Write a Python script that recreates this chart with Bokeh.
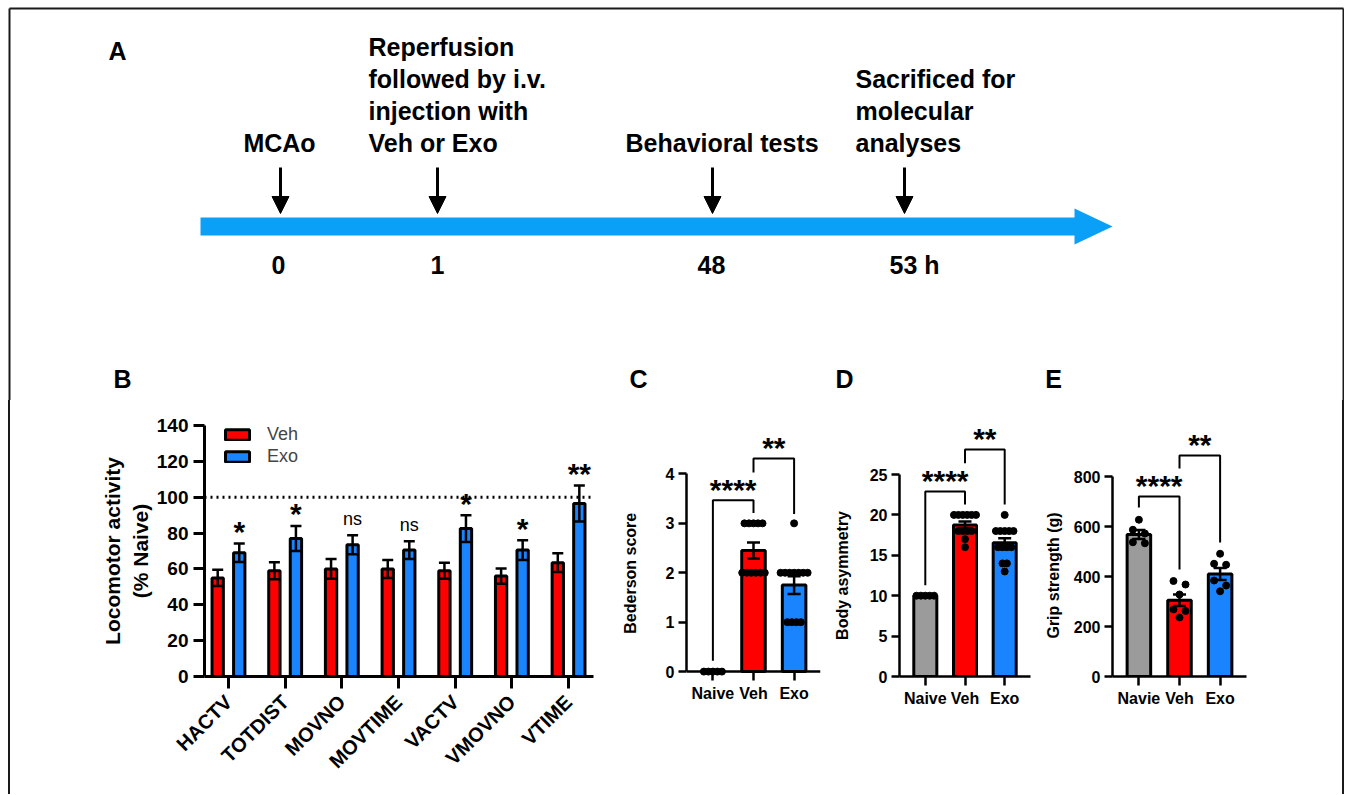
import numpy as np
from bokeh.plotting import figure
from bokeh.models import (Range1d, FixedTicker, ColumnDataSource, Whisker, TeeHead,
                          Legend, LegendItem, Span, Arrow, NormalHead, Div)
from bokeh.layouts import row, column
from bokeh.core.properties import value
from bokeh.embed import file_html
from bokeh.resources import INLINE

FONT = "Liberation Sans"
RED = "#ff0000"
BLUE = "#1a84ff"
GREY = "#9b9b9b"
ARROW_BLUE = "#0aa0f8"
EDGE = "#1a1a1a"

# ---------------- data ----------------
# Panel A (timeline)
a_events = ["MCAo", "Reperfusion\nfollowed by i.v.\ninjection with\nVeh or Exo",
            "Behavioral tests", "Sacrificed for\nmolecular\nanalyses"]
a_times = ["0", "1", "48", "53 h"]

# Panel B
b_cats = ["HACTV", "TOTDIST", "MOVNO", "MOVTIME", "VACTV", "VMOVNO", "VTIME"]
b_groups = ["Veh", "Exo"]
b_veh_mean = [55, 59, 60, 60, 59, 56, 63.5]
b_veh_sem = [4.5, 4.7, 5.5, 5.0, 4.5, 4.2, 5.2]
b_exo_mean = [69, 77, 73.5, 70.5, 82.5, 70.5, 96.5]
b_exo_sem = [5.2, 7.0, 5.3, 5.0, 7.5, 5.5, 10.0]
b_exo_sig = ["*", "*", "ns", "ns", "*", "*", "**"]
b_yticks = [0, 20, 40, 60, 80, 100, 120, 140]
b_naive_level = 100

# Panel C
c_groups = ["Naive", "Veh", "Exo"]
c_points = [[0, 0, 0, 0, 0],
            [3, 3, 3, 3, 3, 2, 2, 2, 2, 2, 2],
            [3, 2, 2, 2, 2, 2, 2, 2, 1, 1, 1, 1]]
c_mean = [0, 2.45, 1.75]
c_sem = [0, 0.16, 0.18]
c_yticks = [0, 1, 2, 3, 4]
c_brackets = [(0, 1, 3.47, 0.22, 3.21, "****"), (1, 2, 4.31, 4.03, 3.19, "**")]

# Panel D
d_groups = ["Naive", "Veh", "Exo"]
d_points = [[10, 10, 10, 10, 10],
            [20, 20, 20, 20, 20, 20, 18, 18, 18, 18, 17, 16],
            [20, 18, 18, 18, 18, 18, 16, 16, 16, 16, 14, 14, 13]]
d_mean = [10, 18.75, 16.55]
d_sem = [0, 0.42, 0.56]
d_yticks = [0, 5, 10, 15, 20, 25]
d_brackets = [(0, 1, 22.9, 11.3, 21.3, "****"), (1, 2, 28.1, 26.4, 21.3, "**")]

# Panel E
e_groups = ["Navie", "Veh", "Exo"]
e_points = [[627, 587, 572, 537, 533],
            [382, 368, 328, 268, 262, 236],
            [491, 451, 447, 384, 364, 341]]
e_mean = [568, 305, 410]
e_sem = [18, 23, 24]
e_yticks = [0, 200, 400, 600, 800]
e_brackets = [(0, 1, 720, 676, 428, "****"), (1, 2, 884, 832, 536, "**")]

GROUP_COLORS = [GREY, RED, BLUE]

ROW_H = 394

# ---------------- Panel A (schematic, page-pixel coordinates) ----------------
pA = figure(width=1344, height=400, x_range=Range1d(0, 1344), y_range=Range1d(400, 0),
            output_backend="svg", toolbar_location=None, min_border=0,
            x_axis_location=None, y_axis_location=None)
pA.grid.visible = False
pA.outline_line_color = None

# frame edges (top / left / right)
pA.multi_line(xs=[[9, 9], [9, 1343], [1343, 1343]], ys=[[402, 8], [8, 8], [8, 402]],
              line_color=EDGE, line_width=2)

# timeline arrow
pA.patch(x=[200, 1074, 1074, 1112, 1074, 1074, 200], y=[217, 217, 208, 226, 244, 235, 235],
         fill_color=ARROW_BLUE, line_color=None)

ev_x = [280, 437, 712, 904]
ev_text_x = [279, 368, 625, 855]
ev_align = ["center", "left", "left", "left"]
tx, ty, tt, ta = [], [], [], []
for k, ev in enumerate(a_events):
    lines = ev.split("\n")
    n = len(lines)
    for j, ln in enumerate(lines):
        tx.append(ev_text_x[k]); ty.append(142 - 32 * (n - 1 - j)); tt.append(ln); ta.append(ev_align[k])
time_x = [278, 437, 711, 889]
time_align = ["center", "center", "center", "left"]
for k, t in enumerate(a_times):
    tx.append(time_x[k]); ty.append(264); tt.append(t); ta.append(time_align[k])
pA.text(x=tx, y=ty, text=tt, text_align=ta, text_baseline="middle",
        text_font=value(FONT), text_font_style="bold", text_font_size="25px", text_color="black")

arr_src = ColumnDataSource(dict(x0=ev_x, y0=[167] * 4, x1=ev_x, y1=[213] * 4))
pA.add_layout(Arrow(source=arr_src, x_start="x0", y_start="y0", x_end="x1", y_end="y1",
                    line_width=3, line_color="black",
                    end=NormalHead(size=17, fill_color="black", line_color="black", line_width=1)))

pA.text(x=[117, 122, 638, 844, 1053], y=[50, 378, 378, 378, 378], text=["A", "B", "C", "D", "E"],
        text_align="center", text_baseline="middle", text_font=value(FONT),
        text_font_style="bold", text_font_size="25px", text_color="black")


def style_axes(p, lw, tick_out_x, tick_out_y, label_size):
    p.xgrid.visible = False
    p.ygrid.visible = False
    p.outline_line_color = None
    for ax in p.axis:
        ax.axis_line_width = lw
        ax.axis_line_color = "black"
        ax.major_tick_line_width = lw
        ax.major_tick_line_color = "black"
        ax.minor_tick_line_color = None
        ax.major_tick_in = 0
        ax.major_label_text_font = FONT
        ax.major_label_text_font_style = "bold"
        ax.major_label_text_font_size = label_size
        ax.major_label_text_color = "black"
        ax.axis_label_text_font = FONT
        ax.axis_label_text_font_style = "bold"
        ax.axis_label_text_color = "black"
    p.xaxis.major_tick_out = tick_out_x
    p.yaxis.major_tick_out = tick_out_y


# ---------------- Panel B ----------------
bx = np.arange(len(b_cats))
pB = figure(width=590, height=ROW_H, x_range=Range1d(-0.423, 6.44), y_range=Range1d(0, 140),
            output_backend="svg", toolbar_location=None,
            min_border_left=194, min_border_right=7, min_border_top=17,
            min_border_bottom=ROW_H - 17 - 261)
style_axes(pB, 3, 12, 11, "19px")
srcB = ColumnDataSource(dict(
    xv=bx - 0.19, xe=bx + 0.19,
    veh=b_veh_mean, exo=b_exo_mean,
    veh_lo=np.array(b_veh_mean) - np.array(b_veh_sem), veh_hi=np.array(b_veh_mean) + np.array(b_veh_sem),
    exo_lo=np.array(b_exo_mean) - np.array(b_exo_sem), exo_hi=np.array(b_exo_mean) + np.array(b_exo_sem),
))
rv = pB.vbar(x="xv", top="veh", width=0.2, source=srcB, fill_color=RED, line_color="black", line_width=3)
rex = pB.vbar(x="xe", top="exo", width=0.2, source=srcB, fill_color=BLUE, line_color="black", line_width=3)
for base, lo, hi in [("xv", "veh_lo", "veh_hi"), ("xe", "exo_lo", "exo_hi")]:
    pB.add_layout(Whisker(source=srcB, base=base, lower=lo, upper=hi, dimension="height",
                          level="overlay", line_width=2.5, line_color="black",
                          upper_head=TeeHead(size=11, line_width=2.5, line_color="black"),
                          lower_head=TeeHead(size=11, line_width=2.5, line_color="black")))
pB.add_layout(Span(location=b_naive_level, dimension="width", line_color="black",
                   line_width=3, line_dash="2 4"))
star_i = [i for i, s in enumerate(b_exo_sig) if s != "ns"]
ns_i = [i for i, s in enumerate(b_exo_sig) if s == "ns"]
pB.text(x=[bx[i] + 0.19 for i in star_i], y=[b_exo_mean[i] + b_exo_sem[i] for i in star_i],
        text=[b_exo_sig[i] for i in star_i], text_align="center", text_baseline="middle",
        y_offset=-12, text_font=value(FONT), text_font_style="bold", text_font_size="30px")
pB.text(x=[bx[i] + 0.19 for i in ns_i], y=[b_exo_mean[i] + b_exo_sem[i] for i in ns_i],
        text=[b_exo_sig[i] for i in ns_i], text_align="center", text_baseline="middle",
        y_offset=-16, text_font=value(FONT), text_font_size="18px")
legB = Legend(items=[LegendItem(label=b_groups[0], renderers=[rv]),
                     LegendItem(label=b_groups[1], renderers=[rex])],
              location=(10, 201), padding=8, margin=0, spacing=0,
              glyph_width=30, glyph_height=13, label_height=22, label_standoff=15,
              label_text_font=FONT, label_text_font_size="18px", label_text_line_height=1.0,
              background_fill_alpha=0, border_line_alpha=0)
pB.add_layout(legB)
pB.yaxis.ticker = FixedTicker(ticks=b_yticks)
pB.xaxis.ticker = FixedTicker(ticks=list(bx))
pB.xaxis.major_label_overrides = {int(i): c for i, c in zip(bx, b_cats)}
pB.xaxis.major_label_orientation = np.pi / 4
pB.xaxis.major_label_text_font_size = "20px"
pB.xaxis.major_label_standoff = 10
pB.yaxis.major_label_standoff = 5
pB.yaxis.axis_label = "Locomotor activity\n(% Naive)"
pB.yaxis.axis_label_text_font_size = "21px"
pB.yaxis.axis_label_standoff = 2


# ---------------- Panels C, D, E ----------------
def swarm(vals, thresh, step):
    order = sorted(range(len(vals)), key=lambda i: -vals[i])
    groups = []
    for i in order:
        if groups and vals[groups[-1][0]] - vals[i] <= thresh:
            groups[-1].append(i)
        else:
            groups.append([i])
    offs = [0.0] * len(vals)
    for g in groups:
        n = len(g)
        for k, i in enumerate(g):
            offs[i] = (k - (n - 1) / 2) * step
    return offs


NBSP = "\u00a0"


def group_panel(groups, points, means, sems, yticks, px_per_unit, ylabel, brackets,
                border_left, border_right, width, label_standoff, label_shift,
                thresh_px, step_px, pad_px=0):
    y_end = 251 / px_per_unit
    y_start = -pad_px / px_per_unit
    p = figure(width=width, height=ROW_H, x_range=Range1d(-0.65, 2.65), y_range=Range1d(y_start, y_end),
               output_backend="svg", toolbar_location=None,
               min_border_left=border_left, min_border_right=border_right,
               min_border_top=25, min_border_bottom=ROW_H - 25 - 251 - pad_px)
    style_axes(p, 2.5, 9, 8, "16px")
    xs = list(range(len(groups)))
    bi = [i for i in xs if means[i] > 0]
    src = ColumnDataSource(dict(x=[xs[i] for i in bi], top=[means[i] for i in bi],
                                color=[GROUP_COLORS[i] for i in bi]))
    p.vbar(x="x", top="top", width=0.58, source=src, fill_color="color",
           line_color="black", line_width=3)
    if pad_px:
        # x-axis line drawn at the zero level; ticks reach up to it
        p.xaxis.axis_line_color = None
        p.xaxis.major_tick_in = pad_px
        p.xaxis.major_tick_out = 9 - pad_px
        p.add_layout(Span(location=0, dimension="width", line_color="black", line_width=2.5))
    dx, dy = [], []
    for i, vals in enumerate(points):
        offs = swarm(vals, thresh_px / px_per_unit, step_px / 40.5)
        dx += [xs[i] + o for o in offs]
        dy += list(vals)
    p.scatter(x=dx, y=dy, size=7, color="black")
    wi = [i for i in xs if sems[i] > 0]
    wsrc = ColumnDataSource(dict(x=[xs[i] for i in wi],
                                 lo=[means[i] - sems[i] for i in wi],
                                 hi=[means[i] + sems[i] for i in wi]))
    p.add_layout(Whisker(source=wsrc, base="x", lower="lo", upper="hi", dimension="height",
                         level="overlay", line_width=2.5, line_color="black",
                         upper_head=TeeHead(size=13, line_width=2.5, line_color="black"),
                         lower_head=TeeHead(size=13, line_width=2.5, line_color="black")))
    p.multi_line(xs=[[i, i, j, j] for (i, j, t, li, lj, s) in brackets],
                 ys=[[li, t, t, lj] for (i, j, t, li, lj, s) in brackets],
                 line_color="black", line_width=2)
    p.text(x=[(i + j) / 2 for (i, j, t, li, lj, s) in brackets],
           y=[t for (i, j, t, li, lj, s) in brackets],
           text=[s for (i, j, t, li, lj, s) in brackets],
           text_align="center", text_baseline="middle", y_offset=-11,
           text_font=value(FONT), text_font_style="bold", text_font_size="30px")
    p.yaxis.ticker = FixedTicker(ticks=yticks)
    p.yaxis.bounds = (0, yticks[-1])
    p.xaxis.ticker = FixedTicker(ticks=xs)
    p.xaxis.major_label_overrides = {i: g for i, g in zip(xs, groups)}
    p.xaxis.major_label_standoff = 4
    p.yaxis.major_label_standoff = 4
    # trailing no-break spaces centre the visible title on the drawn axis (0 .. last tick)
    p.yaxis.axis_label = ylabel + NBSP * label_shift
    p.yaxis.axis_label_text_font_size = "16px"
    p.yaxis.axis_label_standoff = label_standoff
    return p


pC = group_panel(c_groups, c_points, c_mean, c_sem, c_yticks, 50.4, "Bederson score", c_brackets,
                 86, 10, 230, 24, 10, 7, 4.5, pad_px=5)
pD = group_panel(d_groups, d_points, d_mean, d_sem, d_yticks, 8.08, "Body asymmetry", d_brackets,
                 66, 10, 210, 16, 11, 7, 4.5)
pE = group_panel(e_groups, e_points, e_mean, e_sem, e_yticks, 0.25, "Grip strength (g)", e_brackets,
                 72, 96, 302, 9, 11, 7, 12)

left_pad = Div(text="", width=8, height=ROW_H, margin=0)
left_edge = Div(text="", width=2, height=ROW_H, margin=0, styles={"background-color": EDGE})
right_edge = Div(text="", width=2, height=ROW_H, margin=0, styles={"background-color": EDGE})

layout = column(pA, row(left_pad, left_edge, pB, pC, pD, pE, right_edge, spacing=0), spacing=0)

with open("out.html", "w") as f:
    f.write(file_html(layout, INLINE))
